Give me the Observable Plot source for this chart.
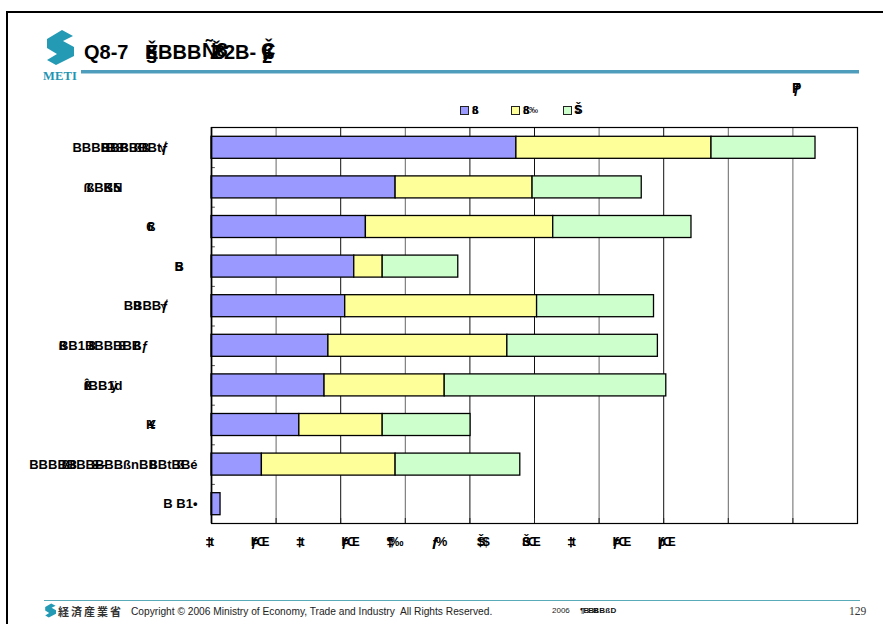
<!DOCTYPE html>
<html>
<head>
<meta charset="utf-8">
<script src="https://cdn.jsdelivr.net/npm/d3@7"></script>
<script src="https://cdn.jsdelivr.net/npm/@observablehq/plot@0.6"></script>
<style>
  html, body { margin: 0; padding: 0; background: #fff; overflow: hidden; }
  #page { position: relative; width: 883px; height: 624px; overflow: hidden; font-family: "Liberation Sans", Arial, sans-serif; }
  #page > * { position: absolute; }
  .t { white-space: pre; color: #000; line-height: 1; }
  .b { font-weight: bold; }
  .sw { width: 7px; height: 7px; border: 1px solid #222; }
  .tight text { letter-spacing: -3px; }
</style>
</head>
<body>
<div id="page"></div>
<script>
// Row labels, top to bottom
const categories = [
  "BBBBBBBBBtƒ", "ßBBN", "6", "5", "BBBBƒ",
  "BB1BBBBBBƒ", "ÎBB1d", "K", "BBBBBBBBBBßnBBBtBBé", "B B1•"
];
const seriesNames = ["ß", "ß‰", "Š"];
const seriesColors = ["#9999ff", "#ffff99", "#ccffcc"];

// Segment lengths for each row, one list per series
const firstSeries  = [47.2, 28.5, 23.9, 22.1, 20.7, 18.1, 17.5, 13.6, 7.8, 1.4];
const secondSeries = [30.2, 21.2, 29.0, 4.4, 29.7, 27.7, 18.6, 12.9, 20.7, null];
const thirdSeries  = [16.1, 16.9, 21.4, 11.7, 18.1, 23.3, 34.3, 13.6, 19.3, null];

const gridValues = [0, 10, 20, 30, 40, 50, 60, 70, 80, 90, 100];
const gridColors = ["#000", "#666", "#111", "#666", "#111", "#111", "#666", "#111", "#666", "#666", "#000"];

// Value-axis labels, evenly stepped along the scale
const axisLabelValues = [0, 7, 14, 21, 28, 35, 42, 49, 56, 63, 70];
const axisLabels = ["‡t", "ÞŒ", "‡t", "ÞŒ", "¶‰", "ƒ%", "Š$", "ŠŒ", "‡t", "ÞŒ", "þŒ"];
const axisOverstrikes = ["‡", "ƒ", "‡", "ƒ", "‡", "ƒ", "‡", "ß", "‡", "ƒ", "ƒ"];

// How far each row label ends left of the axis
const labelGaps = [43, 89, 58, 29, 43, 63, 89, 56, 14, 14];
// Extra glyphs struck over the row labels: row, glyphs, start offset from the axis
const overstrikes = [
  [0, "8", -110], [0, "B8", -105], [0, "ß", -91], [0, "ßß", -78], [0, "√", -52],
  [1, "ß", -128], [1, "K", -108], [1, "5", -98],
  [2, "ß", -64],
  [3, "B", -37],
  [4, "8", -78], [4, "√", -51],
  [5, "ß", -153], [5, "8", -123], [5, "8", -93], [5, "ß", -78],
  [6, "ß", -128], [6, "ÿ", -101],
  [7, "¥", -63],
  [8, "ß8", -150], [8, "8", -120], [8, "—", -118], [8, "8", -62], [8, "ß", -35]
];

const rows = [
  [seriesNames[0], firstSeries],
  [seriesNames[1], secondSeries],
  [seriesNames[2], thirdSeries]
].flatMap(([series, values]) =>
  values.flatMap((value, i) => value == null ? [] : [{category: categories[i], series, value}])
);

const chart = Plot.plot({
  width: 883,
  height: 624,
  marginLeft: 211,
  marginRight: 26,
  marginTop: 127,
  marginBottom: 101,
  style: {fontFamily: '"Liberation Sans", Arial, sans-serif', background: "transparent"},
  x: {domain: [0, 100], axis: null},
  y: {domain: categories, axis: null, range: [127.5, 523.5], paddingInner: 0.444, paddingOuter: 0.222, round: false},
  color: {domain: seriesNames, range: seriesColors},
  marks: [
    Plot.ruleX(gridValues, {x: d => d, stroke: (d, i) => gridColors[i], strokeWidth: 1}),
    Plot.axisX(gridValues, {anchor: "bottom", tickSize: -5, tickFormat: () => "", label: null, stroke: "#222"}),
    Plot.ruleY(categories.slice(0, -1), {y: d => d, x1: 0, x2: 0.6, dy: 19.8, stroke: "#555"}),
    Plot.barX(rows, {x: "value", y: "category", fill: "series", stroke: "#000", strokeWidth: 1.3}),
    Plot.frame({stroke: "#000", strokeWidth: 1.2}),
    Plot.ruleX([0], {stroke: "#000", strokeWidth: 1.6}),
    Plot.text(categories, {
      x: () => 0, y: d => d,
      text: d => d,
      textAnchor: "end",
      fontSize: 13, fontWeight: "bold", fill: "#000",
      render(index, scales, values, dimensions, context, next) {
        // each row label stops at its own distance from the axis
        const g = next(index, scales, values, dimensions, context);
        d3.select(g).selectAll("text").attr("dx", function () {
          return -labelGaps[categories.indexOf(this.textContent)];
        });
        return g;
      }
    }),
    ...overstrikes.map(([row, glyphs, offset]) =>
      Plot.text([categories[row]], {
        x: () => 0, y: d => d, dx: offset,
        text: () => glyphs,
        textAnchor: "start",
        fontSize: 13, fontWeight: "bold", fill: "#000"
      })
    ),
    Plot.text(axisLabelValues, {
      x: d => d,
      text: (d, i) => axisLabels[i],
      frameAnchor: "bottom",
      dx: -6, dy: 22,
      textAnchor: "start",
      fontSize: 13, fontWeight: "bold", fill: "#000",
      className: "tight"
    }),
    Plot.text(axisLabelValues, {
      x: d => d,
      text: (d, i) => axisOverstrikes[i],
      frameAnchor: "bottom",
      dx: -6, dy: 22,
      textAnchor: "start",
      fontSize: 13, fontWeight: "bold", fill: "#000"
    })
  ]
});

const page = document.getElementById("page");
page.appendChild(chart);
chart.style.left = "0px";
chart.style.top = "0px";

// Absolutely placed text on the slide around the chart
function put(text, left, top, size, opts = {}) {
  const el = document.createElement("div");
  el.className = "t" + (opts.bold === false ? "" : " b");
  el.textContent = text;
  el.style.left = left + "px";
  el.style.top = top + "px";
  el.style.fontSize = size + "px";
  if (opts.font) el.style.fontFamily = opts.font;
  if (opts.color) el.style.color = opts.color;
  if (opts.spacing) el.style.letterSpacing = opts.spacing + "px";
  page.appendChild(el);
  return el;
}
function box(left, top, width, height, background) {
  const el = document.createElement("div");
  Object.assign(el.style, {left: left + "px", top: top + "px", width: width + "px", height: height + "px", background});
  page.appendChild(el);
  return el;
}

// Slide border, header rule and footer rule
box(6, 11, 877, 2.4, "#000");
box(6, 11, 2.4, 613, "#000");
box(81, 70, 778, 3.2, "#4f9dbd");
box(81, 73.2, 778, 1.2, "#a9cfde");
box(44, 600, 816, 1, "#5aabb9");

// Logo
const ns = "http://www.w3.org/2000/svg";
function logo(left, top, scale) {
  const svg = document.createElementNS(ns, "svg");
  svg.setAttribute("width", 36 * scale);
  svg.setAttribute("height", 40 * scale);
  svg.setAttribute("viewBox", "0 0 36 40");
  svg.style.left = left + "px";
  svg.style.top = top + "px";
  svg.innerHTML =
    '<path fill="#249ab5" d="M18 1 L29 7 L19 12 L30 18 L30 27 L12 36 L3 31 L13 25 L3 19 L3 10 Z"/>';
  page.appendChild(svg);
}
logo(44, 29, 1);
put("METI", 43, 70, 12.5, {font: '"Liberation Serif", serif', color: "#1d95b3", spacing: 0.2});
logo(44, 603, 0.4);

// Title
put("Q8-7", 84, 42, 20);
put("BBB", 158, 42, 20);
put("Ě", 145, 42, 20);
put("8", 146, 42, 20);
put("š", 146, 46, 20);
put("Ñ8", 202, 40, 20);
put("8", 214, 42, 20);
put("Ž", 210, 42, 20);
put("2B-", 224, 42, 20);
put("Č", 261, 40, 20);
put("ß", 262, 42, 20);
put("ž", 262, 46, 20);

// Unit mark
put("P", 792, 81, 14);
put("ƒ", 793, 81, 14);

// Legend
seriesColors.forEach((color, i) => {
  const s = box([460, 511, 563][i], 106, 7, 7, color);
  s.className = "sw";
});
put("8", 472, 105, 11);
put("ß", 472, 105, 11);
put("8", 523, 105, 11);
put("ß", 523, 105, 11);
put("‰", 529, 106, 9, {bold: false});
put("Š", 574, 103, 13);
put("$", 575, 105, 10);

// Footer
put("経済産業省", 58, 606, 11, {font: '"Noto Sans CJK JP", serif', color: "#333", spacing: 2});
put("Copyright © 2006 Ministry of Economy, Trade and Industry  All Rights Reserved.", 131, 607, 10.2, {bold: false, color: "#222"});
put("2006", 552, 607, 8, {bold: false, color: "#222"});
put("¶BBB", 580, 607, 8, {color: "#111", spacing: -1});
put("ßBßD", 594, 607, 8, {color: "#111", spacing: 0.3});
put("129", 849, 606, 11.5, {bold: false, font: '"Liberation Serif", serif', color: "#333"});
</script>
</body>
</html>
